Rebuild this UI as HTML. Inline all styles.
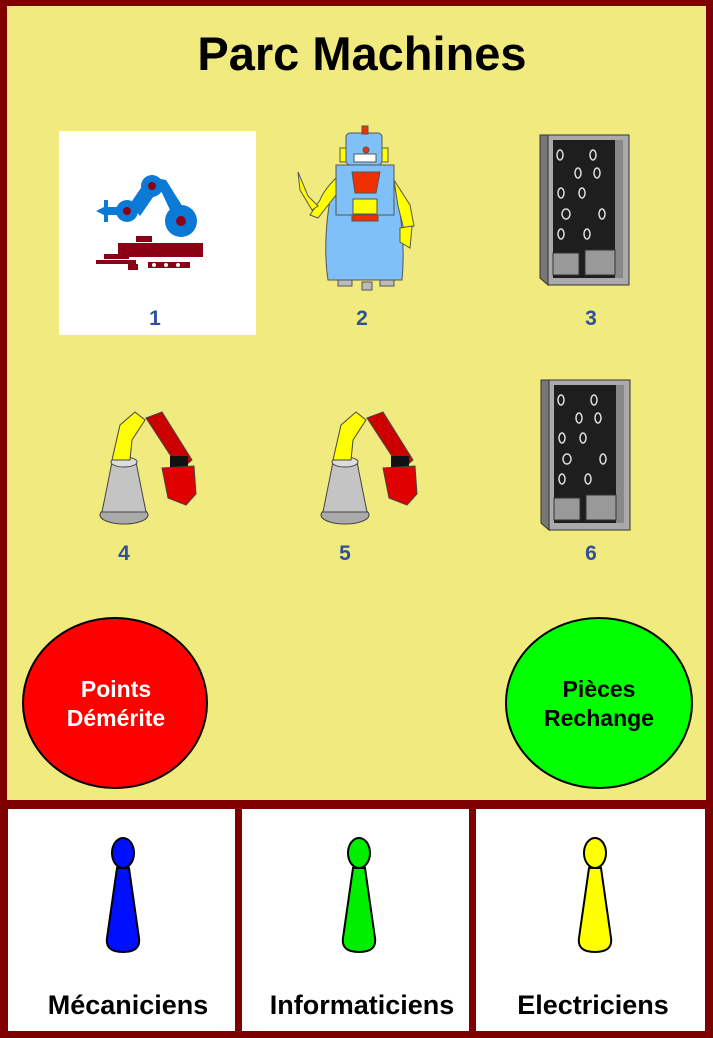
<!DOCTYPE html>
<html><head><meta charset="utf-8"><style>
html,body{margin:0;padding:0;background:#7f0000;}
svg{display:block}
text{font-family:"Liberation Sans",Arial,sans-serif;font-weight:bold}
</style></head><body>
<svg width="713" height="1038" viewBox="0 0 713 1038" xmlns="http://www.w3.org/2000/svg">
<rect x="0" y="0" width="713" height="1038" fill="#7f0000"/>
<rect x="7" y="6" width="699" height="794" fill="#f1ea7e"/>
<text x="362" y="70" font-size="47" text-anchor="middle" fill="#000">Parc Machines</text>
<!-- item 1 -->
<rect x="59" y="131" width="197" height="204" fill="#fff"/>
<g fill="#0a7ad6">
<polygon points="96,211 108,205 108,217"/><rect x="104" y="200" width="4" height="22"/>
<rect x="108" y="207" width="14" height="8"/>
<circle cx="127" cy="211" r="11"/>
<polygon points="130,204 145,182 158,190 140,216"/>
<circle cx="152" cy="186" r="11"/>
<polygon points="155,178 170,210 186,212 166,180"/>
<circle cx="181" cy="221" r="16"/>
</g>
<g fill="#8b0015"><circle cx="127" cy="211" r="4"/><circle cx="152" cy="186" r="4"/><circle cx="181" cy="221" r="5"/>
<rect x="118" y="243" width="85" height="14"/><rect x="104" y="254" width="25" height="5"/><rect x="96" y="260" width="40" height="4"/>
<rect x="136" y="236" width="16" height="6"/><rect x="128" y="264" width="10" height="6"/><rect x="148" y="262" width="42" height="6"/>
</g>
<g fill="#fff"><circle cx="154" cy="265" r="2"/><circle cx="166" cy="265" r="2"/><circle cx="178" cy="265" r="2"/></g>
<text x="155" y="325" font-size="21" text-anchor="middle" fill="#30509a">1</text>
<!-- item 2 robot -->
<g stroke="#555" stroke-width="1">
<rect x="346" y="133" width="36" height="32" rx="4" fill="#80c0f8"/>
<rect x="340" y="148" width="6" height="14" fill="#ffff00"/><rect x="382" y="148" width="6" height="14" fill="#ffff00"/>
<rect x="362" y="126" width="6" height="8" fill="#f03000"/>
<rect x="354" y="154" width="22" height="8" fill="#fff"/>
<circle cx="366" cy="150" r="3" fill="#f03000"/>
<path d="M332 188 Q322 240 328 280 L402 280 Q406 240 396 188Z" fill="#80c0f8"/>
<rect x="336" y="165" width="58" height="50" fill="#80c0f8"/>
<polygon points="352,172 380,172 376,193 355,193" fill="#f03000"/>
<rect x="353" y="199" width="24" height="15" fill="#ffff00"/>
<rect x="352" y="215" width="26" height="6" fill="#f03000"/>
<path d="M336 178 Q324 190 320 200 L310 215 L318 218 L336 195Z" fill="#ffff00"/>
<path d="M298 172 L308 196 L318 206 L312 210 L300 190Z" fill="#ffff00"/>
<path d="M394 180 L410 205 L414 226 L404 230 L398 206Z" fill="#ffff00"/>
<path d="M400 228 L412 226 L410 248 L400 242Z" fill="#ffff00"/>
<rect x="338" y="280" width="14" height="6" fill="#bbb"/><rect x="362" y="282" width="10" height="8" fill="#bbb"/><rect x="380" y="280" width="14" height="6" fill="#bbb"/>
</g>
<text x="362" y="325" font-size="21" text-anchor="middle" fill="#30509a">2</text>
<!-- cabinets -->
<g id="cab">
<polygon points="540,135 548,135 548,285 540,278" fill="#777" stroke="#333"/>
<rect x="548" y="135" width="81" height="150" fill="#aaa" stroke="#333"/>
<rect x="553" y="140" width="70" height="138" fill="#1e1e1e"/>
<rect x="615" y="140" width="8" height="138" fill="#888"/>
<g fill="none" stroke="#ddd" stroke-width="1.5">
<ellipse cx="560" cy="155" rx="3" ry="5"/><ellipse cx="593" cy="155" rx="3" ry="5"/>
<ellipse cx="578" cy="173" rx="3" ry="5"/><ellipse cx="597" cy="173" rx="3" ry="5"/>
<ellipse cx="561" cy="193" rx="3" ry="5"/><ellipse cx="582" cy="193" rx="3" ry="5"/>
<ellipse cx="566" cy="214" rx="4" ry="5"/><ellipse cx="602" cy="214" rx="3" ry="5"/>
<ellipse cx="561" cy="234" rx="3" ry="5"/><ellipse cx="587" cy="234" rx="3" ry="5"/>
</g>
<rect x="553" y="253" width="26" height="22" fill="#999" stroke="#333"/><rect x="585" y="250" width="30" height="25" fill="#999" stroke="#333"/>
</g>
<use href="#cab" transform="translate(1,245)"/>
<text x="591" y="325" font-size="21" text-anchor="middle" fill="#30509a">3</text>
<!-- arms -->
<g id="arm">
<ellipse cx="124" cy="515" rx="24" ry="9" fill="#aaa" stroke="#444"/>
<path d="M102 512 L112 462 L136 462 L146 512Z" fill="#c4c4c4" stroke="#444"/>
<ellipse cx="124" cy="462" rx="13" ry="5" fill="#ddd" stroke="#444"/>
<polygon points="112,460 120,425 135,412 145,420 132,440 130,460" fill="#ffff00" stroke="#444"/>
<polygon points="146,418 162,412 192,460 180,470" fill="#cc0000" stroke="#444"/>
<rect x="170" y="456" width="18" height="12" fill="#111"/>
<polygon points="162,468 194,466 196,494 186,505 168,498" fill="#e00000" stroke="#444"/>
</g>
<use href="#arm" transform="translate(221,0)"/>
<text x="124" y="560" font-size="21" text-anchor="middle" fill="#30509a">4</text>
<text x="345" y="560" font-size="21" text-anchor="middle" fill="#30509a">5</text>
<text x="591" y="560" font-size="21" text-anchor="middle" fill="#30509a">6</text>
<!-- circles -->
<ellipse cx="115" cy="703" rx="92" ry="85" fill="#ff0000" stroke="#000" stroke-width="2"/>
<text x="116" y="697" font-size="23" text-anchor="middle" fill="#fff">Points</text>
<text x="116" y="726" font-size="23" text-anchor="middle" fill="#fff">Démérite</text>
<ellipse cx="599" cy="703" rx="93" ry="85" fill="#00ff00" stroke="#000" stroke-width="2"/>
<text x="599" y="697" font-size="23" text-anchor="middle" fill="#000">Pièces</text>
<text x="599" y="726" font-size="23" text-anchor="middle" fill="#000">Rechange</text>
<!-- bottom boxes -->
<rect x="8" y="809" width="227" height="222" fill="#fff"/>
<rect x="242" y="809" width="227" height="222" fill="#fff"/>
<rect x="476" y="809" width="229" height="222" fill="#fff"/>
<g stroke="#000" stroke-width="2">
<path d="M117 868 L129 868 L139 938 Q141 952 123 952 Q105 952 107 938Z" fill="#0010ff"/>
<ellipse cx="123" cy="853" rx="11" ry="15" fill="#0010ff"/>
<path d="M353 868 L365 868 L375 938 Q377 952 359 952 Q341 952 343 938Z" fill="#00ee00"/>
<ellipse cx="359" cy="853" rx="11" ry="15" fill="#00ee00"/>
<path d="M589 868 L601 868 L611 938 Q613 952 595 952 Q577 952 579 938Z" fill="#ffff00"/>
<ellipse cx="595" cy="853" rx="11" ry="15" fill="#ffff00"/>
</g>
<text x="128" y="1014" font-size="27" text-anchor="middle" fill="#000">Mécaniciens</text>
<text x="362" y="1014" font-size="27" text-anchor="middle" fill="#000">Informaticiens</text>
<text x="593" y="1014" font-size="27" text-anchor="middle" fill="#000">Electriciens</text>
</svg>
</body></html>
